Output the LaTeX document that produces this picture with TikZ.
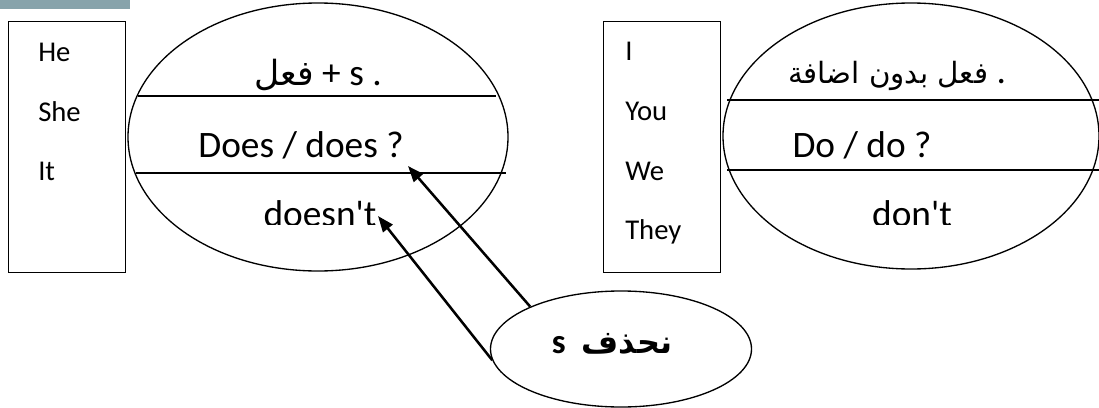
\documentclass[tikz,border=0pt]{standalone}
\usepackage{fontspec}
\setmainfont{Carlito}[Ligatures=TeXOff]
\newfontfamily\arabicfont[Script=Arabic]{DejaVu Sans}
\TeXXeTstate=1
\usetikzlibrary{shapes.geometric}
\usetikzlibrary{arrows.meta}
\definecolor{slateteal}{rgb}{0.53, 0.64, 0.67}
\newcommand{\pxu}{0.75pt}

\tikzset{
	pronbox/.style={draw, line width=1.1pt, minimum width=117*\pxu, minimum height=251*\pxu, inner sep=0pt, anchor=north west},
	rulering/.style={draw, ellipse, line width=1pt, inner sep=0pt},
	pron/.style={anchor=base west, font=\fontsize{21.5}{26}\selectfont, inner sep=0pt},
	rule/.style={anchor=base, font=\fontsize{28}{33}\selectfont, inner sep=0pt},
	divider/.style={line width=1pt},
	pointer/.style={line width=1.9pt, -{Triangle[length=12pt, width=9pt]}},
}

\begin{document}
\begin{tikzpicture}[x=\pxu, y=-\pxu]
	\useasboundingbox (0,0) rectangle (1099,407);
	\fill[slateteal] (0,0) rectangle (130,9);

	% he / she / it
	\node[pronbox] (hebox) at (8,21) {};
	\node[pron] (he) at (38,61) {He};
	\node[pron] (she) at (38,121) {She};
	\node[pron] (it) at (38,180) {It};

	\node[rulering, minimum width=380*\pxu, minimum height=268*\pxu] (sring) at (318,137) {};
	\draw[divider] (138,96) -- (496,96);
	\draw[divider] (136,173) -- (506,173);
	\node[rule] (splus) at (318,85) {{\arabicfont\fontsize{26}{31}\selectfont\beginR فعل\endR} + s .};
	\node[rule] (does) at (301,157) {Does / does ?};

	% i / you / we / they
	\node[pronbox] (ibox) at (603,21) {};
	\node[pron] (i) at (625,60) {I};
	\node[pron] (you) at (625,120) {You};
	\node[pron] (we) at (625,180) {We};
	\node[pron] (they) at (625,239) {They};

	\node[rulering, minimum width=376*\pxu, minimum height=266*\pxu] (plainring) at (911,136) {};
	\draw[divider] (727,100) -- (1099,100);
	\draw[divider] (727,170) -- (1099,170);
	\node[rule] (plain) at (897,83) {{\arabicfont\fontsize{22}{27}\selectfont\beginR فعل بدون اضافة\endR} .};
	\node[rule] (do) at (862,157) {Do / do ?};

	% negatives, cut at the line
	\begin{scope}
		\clip (0,0) rectangle (1099,224);
		\node[rule] (doesnt) at (320,226) {doesn't};
		\node[rule] (dont) at (912,226) {don't};
	\end{scope}

	% drop the s
	\node[rulering, minimum width=261*\pxu, minimum height=116*\pxu] (drop) at (621,349) {};
	\node[rule, font=\fontsize{26}{31}\selectfont\bfseries] (droptext) at (612,353) {s\ \ {\arabicfont\bfseries\fontsize{24}{29}\selectfont\beginR نحذف\endR}};

	\coordinate (qmark) at (408,166);
	\coordinate (tmark) at (378,216);
	\draw[pointer] (drop.155) -- (qmark);
	\draw[pointer] (drop.185) -- (tmark);
\end{tikzpicture}
\end{document}
